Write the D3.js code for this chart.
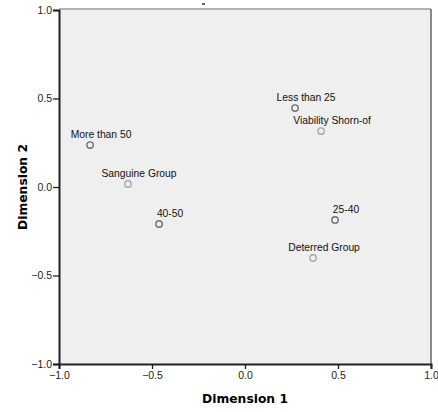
<!DOCTYPE html>
<html>
<head>
<meta charset="utf-8">
<script src="https://cdn.jsdelivr.net/npm/d3@7"></script>
<style>
  body { margin: 0; background: #fff; }
  svg { display: block; }
</style>
</head>
<body>
<svg id="chart"></svg>
<script>
// Age categories (darker points)
const ageLabels = ["More than 50", "Less than 25", "40-50", "25-40"];
const ageDim1 = [-0.833, 0.269, -0.462, 0.484];
const ageDim2 = [0.237, 0.446, -0.209, -0.186];

// Group categories (lighter points)
const groupLabels = ["Sanguine Group", "Viability Shorn-of", "Deterred Group"];
const groupDim1 = [-0.629, 0.409, 0.366];
const groupDim2 = [0.017, 0.316, -0.401];

const tickValues = [-1.0, -0.5, 0.0, 0.5, 1.0];

const width = 438, height = 412;
const margin = {top: 10, right: 7, bottom: 48, left: 59};

const svg = d3.select('#chart')
  .attr('width', width)
  .attr('height', height)
  .style('font-family', 'Arial, "Liberation Sans", sans-serif');

const x = d3.scaleLinear().domain([-1, 1]).range([margin.left, width - margin.right]);
const y = d3.scaleLinear().domain([-1, 1]).range([height - margin.bottom, margin.top]);

// plot background
svg.append('rect')
  .attr('x', x(-1)).attr('y', y(1))
  .attr('width', x(1) - x(-1)).attr('height', y(-1) - y(1))
  .attr('fill', '#efefef');

// top and right frame (gray)
svg.append('line')
  .attr('x1', x(-1)).attr('x2', x(1))
  .attr('y1', y(1) - 1).attr('y2', y(1) - 1)
  .attr('stroke', '#9a9a9a').attr('stroke-width', 1.5);
svg.append('line')
  .attr('x1', x(1)).attr('x2', x(1))
  .attr('y1', y(1) - 1).attr('y2', y(-1))
  .attr('stroke', '#666').attr('stroke-width', 1.5);

// small stray mark above the plot
svg.append('line')
  .attr('x1', 202).attr('x2', 205).attr('y1', 4).attr('y2', 4)
  .attr('stroke', '#333').attr('stroke-width', 1.5);

const xAxis = svg.append('g')
  .attr('transform', `translate(0,${y(-1)})`)
  .call(d3.axisBottom(x).tickValues(tickValues).tickFormat(d3.format('.1f')).tickSize(5).tickPadding(3));

const yAxis = svg.append('g')
  .attr('transform', `translate(${x(-1)},0)`)
  .call(d3.axisLeft(y).tickValues(tickValues).tickFormat(d3.format('.1f')).tickSize(6).tickPadding(1));

[xAxis, yAxis].forEach(g => {
  g.select('.domain').attr('stroke', '#222').attr('stroke-width', 2);
  g.selectAll('.tick line').attr('stroke', '#222').attr('stroke-width', 1.3);
  g.selectAll('.tick text')
    .attr('fill', '#222')
    .style('font-size', '10.5px')
    .style('font-family', 'Arial, "Liberation Sans", sans-serif');
});

// axis titles
svg.append('text')
  .attr('x', (x(-1) + x(1)) / 2)
  .attr('y', 403)
  .attr('text-anchor', 'middle')
  .style('font-family', '"DejaVu Sans", sans-serif')
  .style('font-weight', 'bold')
  .style('font-size', '12.3px')
  .attr('fill', '#000')
  .text('Dimension 1');

svg.append('text')
  .attr('transform', `translate(27,${(y(-1) + y(1)) / 2}) rotate(-90)`)
  .attr('text-anchor', 'middle')
  .style('font-family', '"DejaVu Sans", sans-serif')
  .style('font-weight', 'bold')
  .style('font-size', '12.3px')
  .attr('fill', '#000')
  .text('Dimension 2');

function drawSeries(labels, d1, d2, color) {
  const data = labels.map((l, i) => ({label: l, a: d1[i], b: d2[i]}));
  const g = svg.append('g');
  g.selectAll('circle')
    .data(data)
    .enter().append('circle')
    .attr('cx', d => x(d.a))
    .attr('cy', d => y(d.b))
    .attr('r', 3.2)
    .attr('fill', 'none')
    .attr('stroke', color)
    .attr('stroke-width', 1.4);
  g.selectAll('text')
    .data(data)
    .enter().append('text')
    .attr('x', d => x(d.a) + 11)
    .attr('y', d => y(d.b) - 7)
    .attr('text-anchor', 'middle')
    .style('font-size', '10.3px')
    .attr('fill', '#111')
    .text(d => d.label);
}

drawSeries(ageLabels, ageDim1, ageDim2, '#6e6e6e');
drawSeries(groupLabels, groupDim1, groupDim2, '#a8a8a8');
</script>
</body>
</html>
